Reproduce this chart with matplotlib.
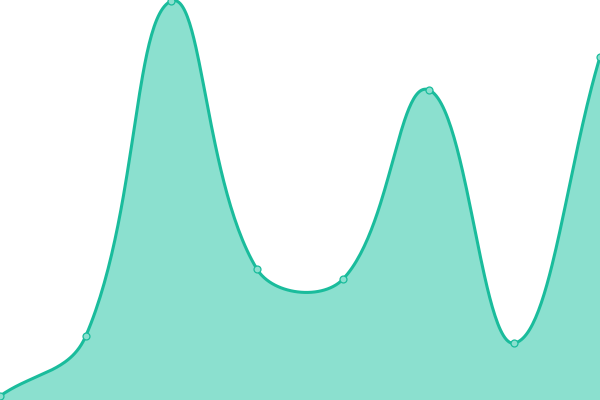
import numpy as np
import matplotlib
matplotlib.use("Agg")
import matplotlib.pyplot as plt

labels = ["A", "B", "C", "D", "E", "F", "G", "H"]
values = [4, 64, 400, 131, 121, 311, 57, 344]

LINE = "#1abc9c"
FILL = "#8be0cf"
TENSION = 0.4

fig = plt.figure(figsize=(6, 4), dpi=100)
ax = fig.add_axes([0, 0, 1, 1])
ax.set_xlim(0, len(labels) - 1)
ax.set_ylim(0, 401)
ax.axis("off")

# work in pixel space so the smoothing looks like a canvas spline
x = np.arange(len(values), dtype=float)
pts = ax.transData.transform(np.column_stack([x, values]))

def bezier_path(p, t):
    n = len(p)
    out = [p[0]]
    for i in range(n - 1):
        a, b = p[i], p[i + 1]
        pa = p[i - 1] if i > 0 else a
        nb = p[i + 2] if i + 2 < n else b
        # control after a
        d01 = np.linalg.norm(a - pa); d12 = np.linalg.norm(b - a)
        s = d12 / (d01 + d12) if d01 + d12 else 0
        c1 = a + t * s * (b - pa)
        # control before b
        d01 = np.linalg.norm(b - a); d12 = np.linalg.norm(nb - b)
        s = d01 / (d01 + d12) if d01 + d12 else 0
        c2 = b - t * s * (nb - a)
        u = np.linspace(0, 1, 60)[1:, None]
        seg = (1-u)**3*a + 3*(1-u)**2*u*c1 + 3*(1-u)*u**2*c2 + u**3*b
        out.extend(seg)
    return np.array(out)

curve = ax.transData.inverted().transform(bezier_path(pts, TENSION))

ax.fill_between(curve[:, 0], curve[:, 1], 0, color=FILL, lw=0)
ax.plot(curve[:, 0], curve[:, 1], color=LINE, lw=2.2, solid_capstyle="round", clip_on=False)
ax.plot(x, values, "o", ms=5, mfc=FILL, mec=LINE, mew=0.9, clip_on=False)

fig.savefig("out.png", dpi=100)
